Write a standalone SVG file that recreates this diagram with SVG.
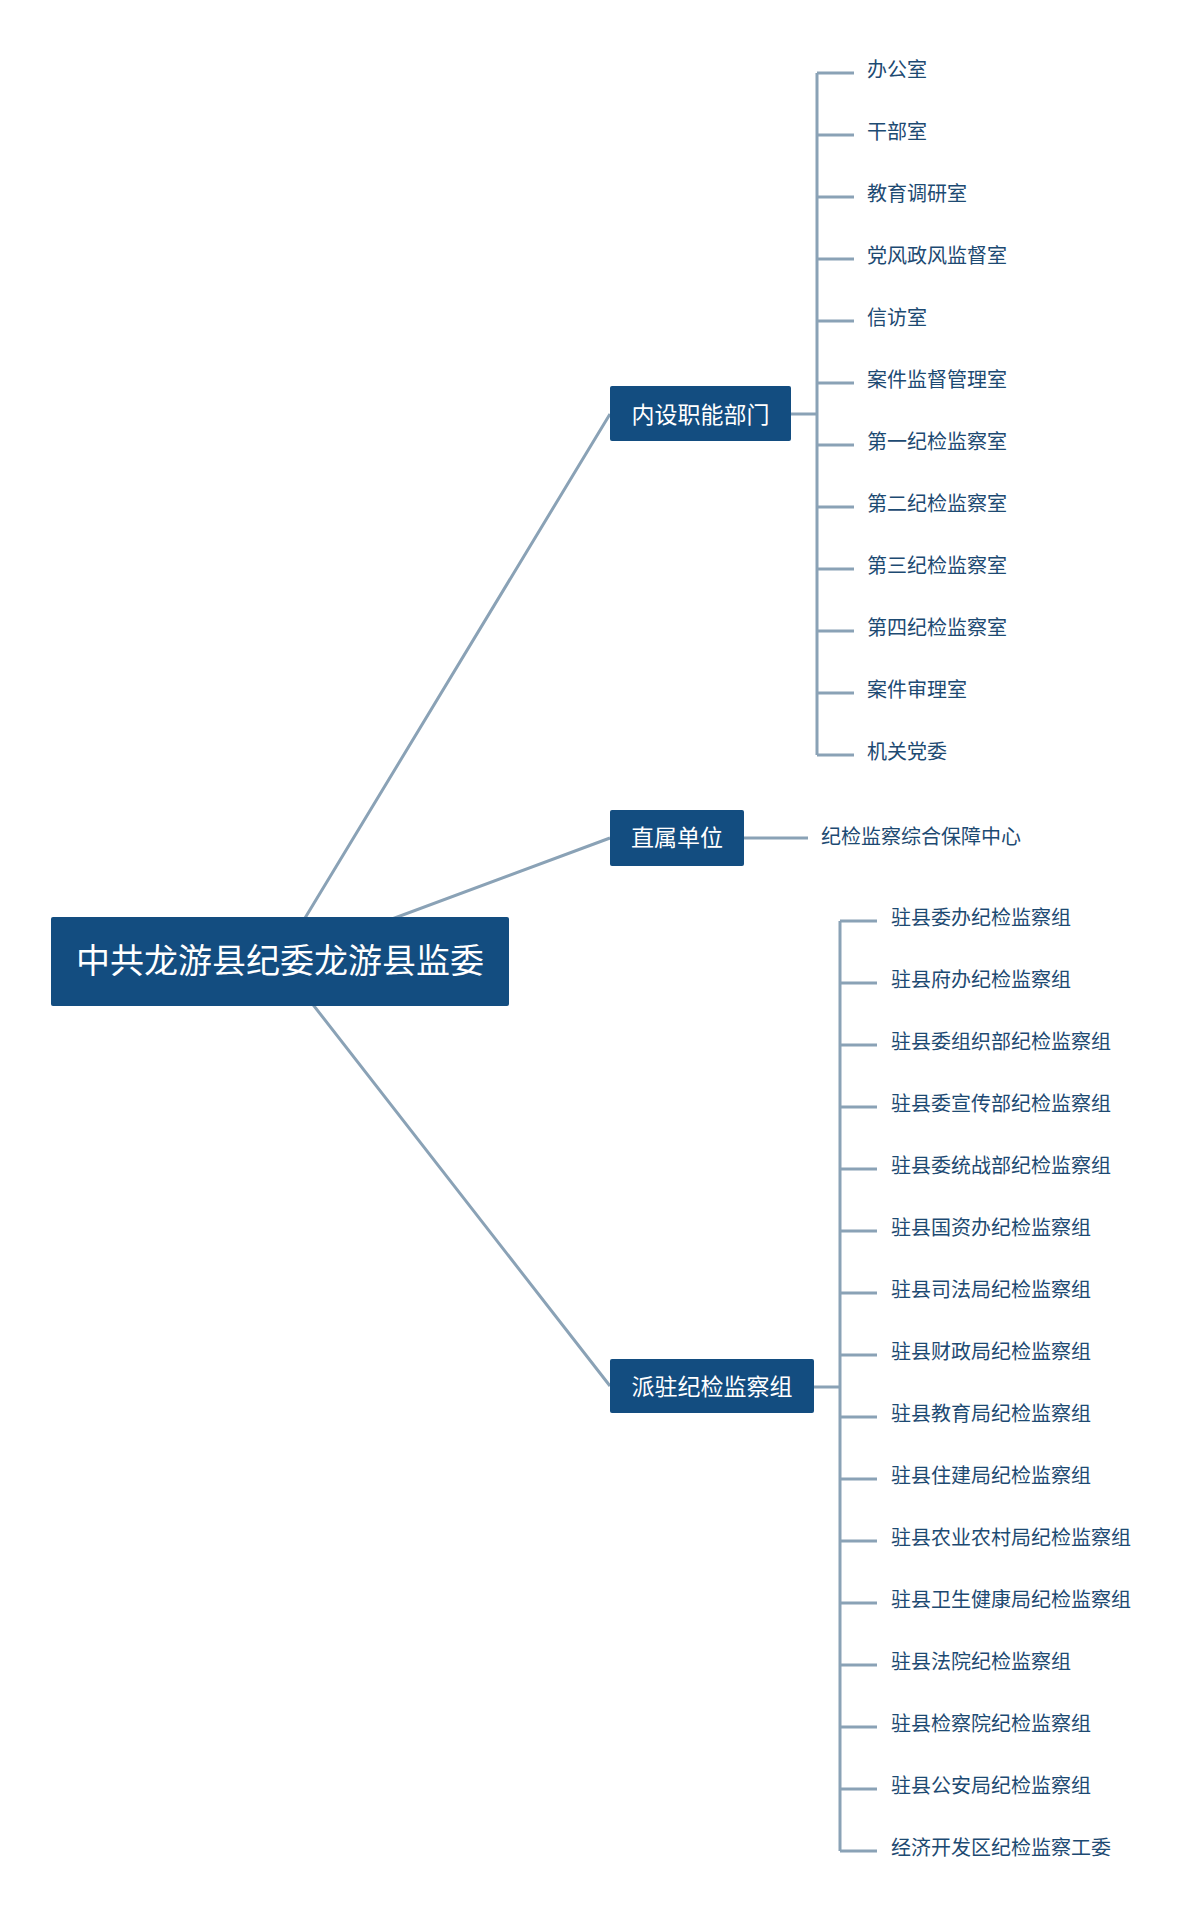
<svg xmlns="http://www.w3.org/2000/svg" width="1199" height="1924" viewBox="0 0 1199 1924">
<style>
.conn{stroke:#8aa2b6;stroke-width:3;fill:none}
.box{fill:#134d80}
.bt{fill:#ffffff;font-family:"Noto Sans CJK SC","Noto Sans",sans-serif;dominant-baseline:central;text-anchor:middle}
.lf{fill:#1d4a72;font-family:"Noto Sans CJK SC","Noto Sans",sans-serif;font-size:20px;dominant-baseline:central}
</style>
<rect width="1199" height="1924" fill="#ffffff"/>
<g id="connectors">
<path class="conn" d="M279,961 L610,414 M279,961 L610,838 M279,961 L610,1386"/>
<path class="conn" d="M791,414 H817 M817,73 V755 M817,73 H854 M817,135 H854 M817,197 H854 M817,259 H854 M817,321 H854 M817,383 H854 M817,445 H854 M817,507 H854 M817,569 H854 M817,631 H854 M817,693 H854 M817,755 H854"/>
<path class="conn" d="M744,838 H808"/>
<path class="conn" d="M814,1387 H840 M840,921 V1851 M840,921 H877 M840,983 H877 M840,1045 H877 M840,1107 H877 M840,1169 H877 M840,1231 H877 M840,1293 H877 M840,1355 H877 M840,1417 H877 M840,1479 H877 M840,1541 H877 M840,1603 H877 M840,1665 H877 M840,1727 H877 M840,1789 H877 M840,1851 H877"/>
</g>
<g id="root">
<rect class="box" x="51" y="917" width="458" height="89" rx="2"/>
<text class="bt" x="280" y="958" font-size="34">中共龙游县纪委龙游县监委</text>
</g>
<g id="n1">
<rect class="box" x="610" y="386" width="181" height="55" rx="2"/>
<text class="bt" x="700.5" y="412.5" font-size="23">内设职能部门</text>
</g>
<g id="n2">
<rect class="box" x="610" y="810" width="134" height="56" rx="2"/>
<text class="bt" x="677" y="836" font-size="23">直属单位</text>
</g>
<g id="n3">
<rect class="box" x="610" y="1359" width="204" height="54" rx="2"/>
<text class="bt" x="712" y="1384.5" font-size="23">派驻纪检监察组</text>
</g>
<g id="leaves1">
<text class="lf" x="867" y="68.5">办公室</text>
<text class="lf" x="867" y="130.5">干部室</text>
<text class="lf" x="867" y="192.5">教育调研室</text>
<text class="lf" x="867" y="254.5">党风政风监督室</text>
<text class="lf" x="867" y="316.5">信访室</text>
<text class="lf" x="867" y="378.5">案件监督管理室</text>
<text class="lf" x="867" y="440.5">第一纪检监察室</text>
<text class="lf" x="867" y="502.5">第二纪检监察室</text>
<text class="lf" x="867" y="564.5">第三纪检监察室</text>
<text class="lf" x="867" y="626.5">第四纪检监察室</text>
<text class="lf" x="867" y="688.5">案件审理室</text>
<text class="lf" x="867" y="750.5">机关党委</text>
</g>
<g id="leaves2">
<text class="lf" x="821" y="835">纪检监察综合保障中心</text>
</g>
<g id="leaves3">
<text class="lf" x="891" y="916.5">驻县委办纪检监察组</text>
<text class="lf" x="891" y="978.5">驻县府办纪检监察组</text>
<text class="lf" x="891" y="1040.5">驻县委组织部纪检监察组</text>
<text class="lf" x="891" y="1102.5">驻县委宣传部纪检监察组</text>
<text class="lf" x="891" y="1164.5">驻县委统战部纪检监察组</text>
<text class="lf" x="891" y="1226.5">驻县国资办纪检监察组</text>
<text class="lf" x="891" y="1288.5">驻县司法局纪检监察组</text>
<text class="lf" x="891" y="1350.5">驻县财政局纪检监察组</text>
<text class="lf" x="891" y="1412.5">驻县教育局纪检监察组</text>
<text class="lf" x="891" y="1474.5">驻县住建局纪检监察组</text>
<text class="lf" x="891" y="1536.5">驻县农业农村局纪检监察组</text>
<text class="lf" x="891" y="1598.5">驻县卫生健康局纪检监察组</text>
<text class="lf" x="891" y="1660.5">驻县法院纪检监察组</text>
<text class="lf" x="891" y="1722.5">驻县检察院纪检监察组</text>
<text class="lf" x="891" y="1784.5">驻县公安局纪检监察组</text>
<text class="lf" x="891" y="1846.5">经济开发区纪检监察工委</text>
</g>
</svg>
